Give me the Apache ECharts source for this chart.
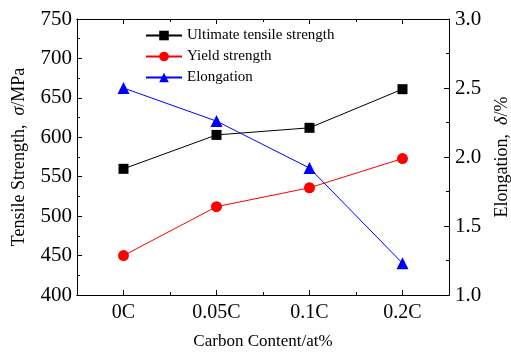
<!DOCTYPE html>
<html>
<head>
<meta charset="utf-8">
<script src="https://cdn.jsdelivr.net/npm/echarts@6/dist/echarts.min.js"></script>
<style>html,body{margin:0;padding:0;background:#fff}#c{width:511px;height:353px}</style>
</head>
<body>
<div id="c"></div>
<script>
var categories = ['0C', '0.05C', '0.1C', '0.2C'];
var ultimateTensile = [560, 603, 612, 661];
var yieldStrength = [450, 512, 536, 573];
var elongation = [2.50, 2.26, 1.92, 1.23];

var FONT = '"Liberation Serif", "Times New Roman", serif';
var chart = echarts.init(document.getElementById('c'));
var axLine = {show: true, lineStyle: {color: '#000', width: 1}};
function xa(pos, major) {
  return {
    type: 'category', data: categories, position: pos, boundaryGap: true,
    axisLine: axLine,
    axisTick: {show: true, inside: true, length: major ? 5 : 3, alignWithLabel: major, lineStyle: {color: '#000'}},
    axisLabel: {show: pos === 'bottom' && major, color: '#000', fontFamily: FONT, fontSize: 20, margin: 8},
    splitLine: {show: false}
  };
}
var xAxes = [xa('bottom', true), xa('bottom', false), xa('top', true), xa('top', false)];
xAxes[0].name = 'Carbon Content/at%';
xAxes[0].nameLocation = 'middle';
xAxes[0].nameGap = 38;
xAxes[0].nameTextStyle = {color: '#000', fontFamily: FONT, fontSize: 17};

chart.setOption({
  animation: false,
  backgroundColor: '#fff',
  grid: {left: 77, right: 62, top: 19, bottom: 58, containLabel: false, outerBoundsMode: 'none'},
  legend: {
    orient: 'vertical', left: 140, top: 23, itemWidth: 36, itemHeight: 12, itemGap: 6,
    textStyle: {color: '#000', fontFamily: FONT, fontSize: 15},
    data: ['Ultimate tensile strength', 'Yield strength', 'Elongation']
  },
  xAxis: xAxes,
  yAxis: [{
    type: 'value', min: 400, max: 750, interval: 50, position: 'left',
    axisLine: axLine,
    axisTick: {show: true, inside: true, length: 5, lineStyle: {color: '#000'}},
    minorTick: {show: true, splitNumber: 2, length: 3, lineStyle: {color: '#000'}},
    axisLabel: {color: '#000', fontFamily: FONT, fontSize: 21, margin: 5},
    splitLine: {show: false},
    name: '{a|Tensile Strength,  }{b|σ}{a|/MPa}', nameLocation: 'middle', nameGap: 49, nameRotate: 90,
    nameTextStyle: {rich: {
      a: {color: '#000', fontFamily: FONT, fontSize: 18},
      b: {color: '#000', fontFamily: FONT, fontSize: 18, fontStyle: 'italic'}
    }}
  }, {
    type: 'value', min: 1.0, max: 3.0, interval: 0.5, position: 'right',
    axisLine: axLine,
    axisTick: {show: true, inside: true, length: 5, lineStyle: {color: '#000'}},
    minorTick: {show: true, splitNumber: 2, length: 3, lineStyle: {color: '#000'}},
    axisLabel: {color: '#000', fontFamily: FONT, fontSize: 21, margin: 6, formatter: function (v) { return v.toFixed(1); }},
    splitLine: {show: false},
    name: '{a|Elongation,  }{b|δ}{a|/%}', nameLocation: 'middle', nameGap: 44, nameRotate: 90,
    nameTextStyle: {rich: {
      a: {color: '#000', fontFamily: FONT, fontSize: 18},
      b: {color: '#000', fontFamily: FONT, fontSize: 18, fontStyle: 'italic'}
    }}
  }],
  series: [{
    name: 'Ultimate tensile strength', type: 'line', xAxisIndex: 0, yAxisIndex: 0,
    data: ultimateTensile, symbol: 'rect', symbolSize: 10,
    itemStyle: {color: '#000'}, lineStyle: {color: '#000', width: 1}
  }, {
    name: 'Yield strength', type: 'line', xAxisIndex: 0, yAxisIndex: 0,
    data: yieldStrength, symbol: 'circle', symbolSize: 11,
    itemStyle: {color: '#ff0000'}, lineStyle: {color: '#ff0000', width: 1}
  }, {
    name: 'Elongation', type: 'line', xAxisIndex: 0, yAxisIndex: 1,
    data: elongation, symbol: 'triangle', symbolSize: 12,
    itemStyle: {color: '#0000ff'}, lineStyle: {color: '#0000ff', width: 1}
  }]
});
</script>
</body>
</html>
